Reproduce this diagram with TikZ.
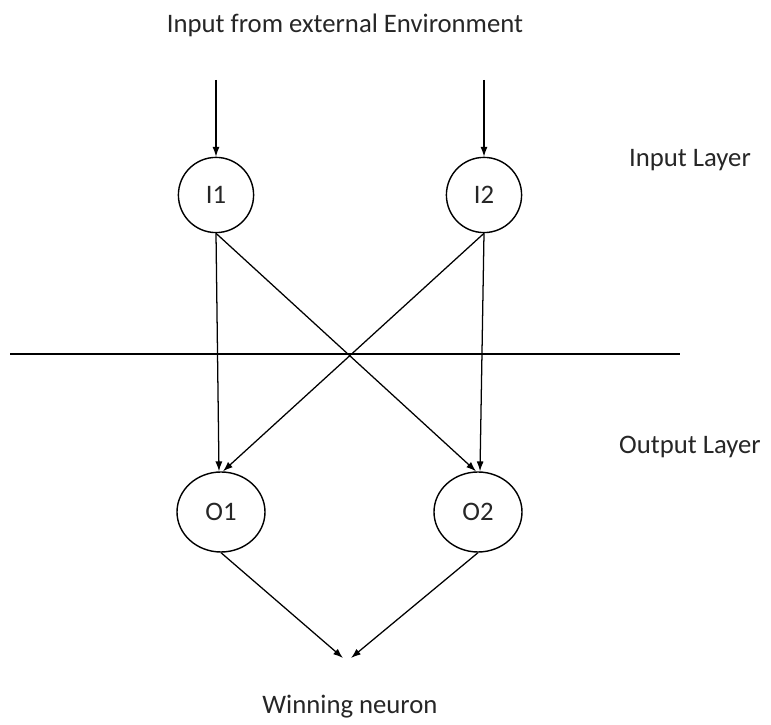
\documentclass[tikz,border=0pt]{standalone}
\usepackage{fontspec}
\setmainfont{Carlito}
\usetikzlibrary{arrows.meta,shapes.geometric}

\tikzset{
  neuron/.style={draw, circle, line width=1pt, minimum size=1.88cm, inner sep=0pt},
  outneuron/.style={draw, ellipse, line width=1pt, minimum width=2.2cm, minimum height=2.0cm, inner sep=0pt},
  link/.style={line width=0.9pt, -{Latex[length=7pt,width=5pt]}},
  lbl/.style={font=\fontsize{19}{23}\selectfont, text=black!85}
}

\begin{document}
\begin{tikzpicture}[scale=1.0]
\useasboundingbox (0,0) rectangle (19.275,18.125);

% layers
\node[neuron, lbl] (I1) at (5.4,13.25) {I1};
\node[neuron, lbl] (I2) at (12.1,13.25) {I2};
\node[outneuron, lbl] (O1) at (5.525,5.325) {O1};
\node[outneuron, lbl] (O2) at (11.95,5.325) {O2};

% labels
\node[lbl] (env) at (8.625,17.5) {Input from external Environment};
\node[lbl] (inlayer) at (17.25,14.125) {Input Layer};
\node[lbl] (outlayer) at (17.25,6.95) {Output Layer};
\node[lbl] (win) at (8.75,0.45) {Winning neuron};

\coordinate (in1) at (5.4,16.125);
\coordinate (in2) at (12.1,16.125);
\coordinate (w1) at (8.575,1.675);
\coordinate (w2) at (8.775,1.675);
\coordinate (sepL) at (0.25,9.275);
\coordinate (sepR) at (17.0,9.275);

\draw[link] (in1) -- (I1);
\draw[link] (in2) -- (I2);

\draw[line width=0.9pt] (sepL) -- (sepR);

\draw[link] (I1.south) -- ([xshift=-0.05cm]O1.north);
\draw[link] (I1.south) -- ([xshift=-0.05cm]O2.north);
\draw[link] (I2.south) -- ([xshift=0.05cm]O1.north);
\draw[link] (I2.south) -- ([xshift=0.05cm]O2.north);

\draw[link] (O1.south) -- (w1);
\draw[link] (O2.south) -- (w2);
\end{tikzpicture}
\end{document}
